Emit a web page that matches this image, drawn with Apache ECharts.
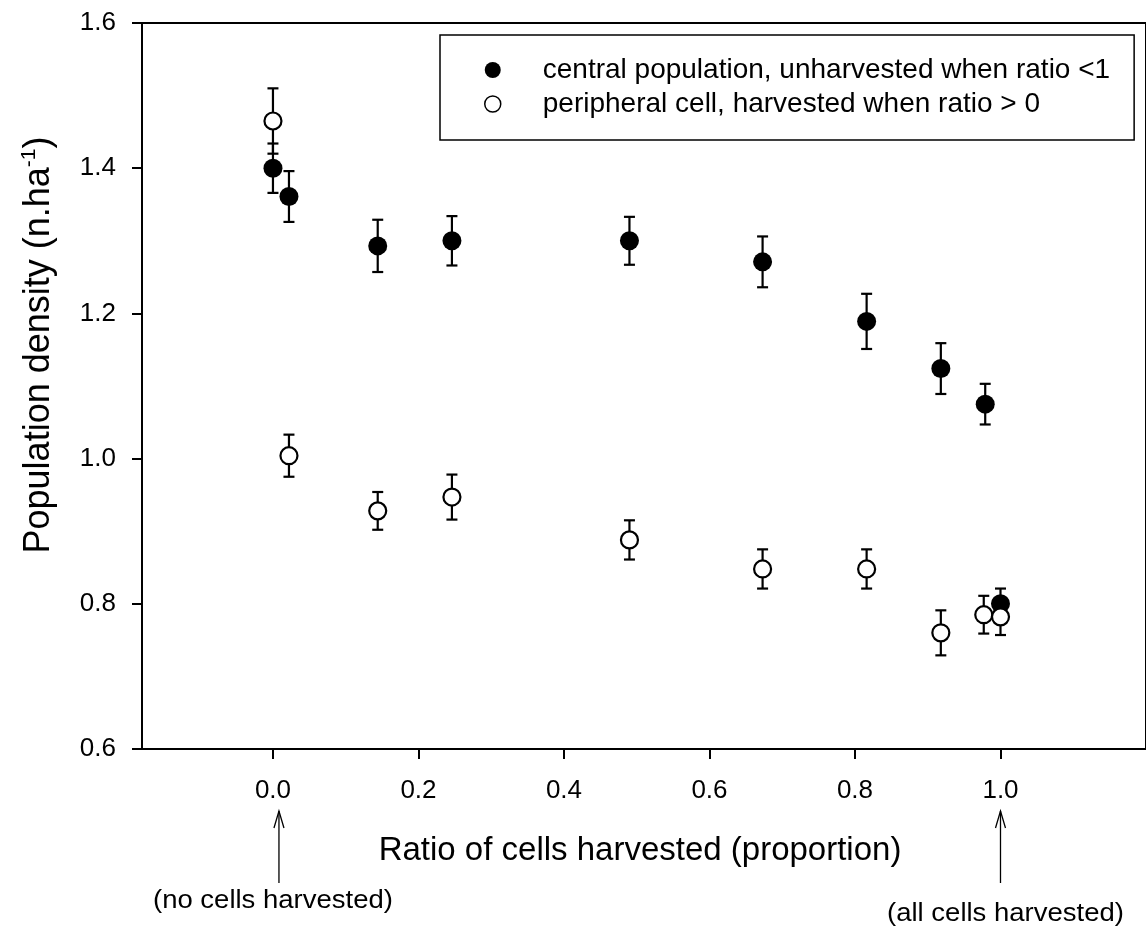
<!DOCTYPE html>
<html>
<head>
<meta charset="utf-8">
<script src="https://cdn.jsdelivr.net/npm/echarts@6/dist/echarts.min.js"></script>
<style>
  html, body { margin: 0; padding: 0; background: #fff; }
  #chart { width: 1146px; height: 928px; }
</style>
</head>
<body>
<div id="chart"></div>
<script>
// Ratio of cells harvested (x) for each treatment
const centralX = [0, 0.022, 0.144, 0.246, 0.490, 0.673, 0.816, 0.918, 0.979, 1.0];
const centralY = [1.400, 1.361, 1.293, 1.300, 1.300, 1.271, 1.189, 1.124, 1.075, 0.800];
const centralErr = [0.034, 0.035, 0.036, 0.034, 0.033, 0.035, 0.038, 0.035, 0.028, 0.021];

const peripheralX = [0, 0.022, 0.144, 0.246, 0.490, 0.673, 0.816, 0.918, 0.977, 1.0];
const peripheralY = [1.465, 1.004, 0.928, 0.947, 0.888, 0.848, 0.848, 0.760, 0.785, 0.782];
const peripheralErr = [0.045, 0.029, 0.026, 0.031, 0.027, 0.027, 0.027, 0.031, 0.026, 0.025];

const xTicks = [0, 0.2, 0.4, 0.6, 0.8, 1.0];
const yTicks = [0.6, 0.8, 1.0, 1.2, 1.4, 1.6];

const seriesNames = [
  'central population, unharvested when ratio <1',
  'peripheral cell, harvested when ratio > 0'
];

const FONT = '"Liberation Sans", Arial, sans-serif';

const points = (xs, ys) => xs.map((x, i) => [x, ys[i]]);
const bars = (xs, ys, es) => xs.map((x, i) => [x, ys[i] - es[i], ys[i] + es[i]]);

// Vertical error bar with short caps at both ends
function renderErrorBar(params, api) {
  const x = api.value(0);
  const lo = api.coord([x, api.value(1)]);
  const hi = api.coord([x, api.value(2)]);
  const w = 5.5;
  const st = { stroke: '#000', lineWidth: 2.2 };
  return {
    type: 'group',
    children: [
      { type: 'line', shape: { x1: lo[0], y1: lo[1], x2: hi[0], y2: hi[1] }, style: st },
      { type: 'line', shape: { x1: lo[0] - w, y1: lo[1], x2: lo[0] + w, y2: lo[1] }, style: st },
      { type: 'line', shape: { x1: hi[0] - w, y1: hi[1], x2: hi[0] + w, y2: hi[1] }, style: st }
    ]
  };
}

const chart = echarts.init(document.getElementById('chart'), null, { renderer: 'canvas' });

const option = {
  backgroundColor: '#fff',
  animation: false,
  textStyle: { fontFamily: FONT, color: '#000' },
  grid: {
    show: true,
    left: 142,
    top: 23,
    width: 1011,
    bottom: 179,
    borderColor: '#000',
    borderWidth: 2,
    backgroundColor: 'transparent'
  },
  legend: {
    data: [
      { name: seriesNames[0], icon: 'circle', itemStyle: { color: '#000', borderWidth: 0 } },
      { name: seriesNames[1], icon: 'circle', itemStyle: { color: '#fff', borderColor: '#000', borderWidth: 1.5 } }
    ],
    orient: 'vertical',
    left: 440,
    top: 35,
    backgroundColor: '#fff',
    borderColor: '#000',
    borderWidth: 1.5,
    borderRadius: 0,
    padding: [20, 24, 21, 44],
    itemWidth: 16,
    itemHeight: 16,
    itemGap: 4,
    selectedMode: false,
    textStyle: { fontFamily: FONT, fontSize: 28, color: '#000', lineHeight: 30, padding: [0, 0, 0, 37] }
  },
  xAxis: {
    type: 'value',
    min: -0.18,
    max: 1.2,
    splitLine: { show: false },
    axisLine: { show: true, onZero: false, lineStyle: { color: '#000', width: 2 } },
    axisTick: { show: true, inside: false, length: 10, lineStyle: { color: '#000', width: 2 }, customValues: xTicks },
    axisLabel: {
      customValues: xTicks,
      formatter: v => v.toFixed(1),
      fontFamily: FONT, fontSize: 26, color: '#000', margin: 29
    }
  },
  yAxis: {
    type: 'value',
    min: yTicks[0],
    max: yTicks[yTicks.length - 1],
    interval: 0.2,
    splitLine: { show: false },
    axisLine: { show: true, onZero: false, lineStyle: { color: '#000', width: 2 } },
    axisTick: { show: true, inside: false, length: 10, lineStyle: { color: '#000', width: 2 } },
    axisLabel: {
      formatter: v => v.toFixed(1),
      fontFamily: FONT, fontSize: 26, color: '#000', margin: 26
    }
  },
  series: [
    {
      name: seriesNames[0] + ' error',
      type: 'custom',
      renderItem: renderErrorBar,
      data: bars(centralX, centralY, centralErr),
      encode: { x: 0, y: [1, 2] },
      z: 2,
      silent: true
    },
    {
      name: seriesNames[0],
      type: 'scatter',
      data: points(centralX, centralY),
      symbol: 'circle',
      symbolSize: 19,
      itemStyle: { color: '#000', borderWidth: 0, opacity: 1 },
      z: 3
    },
    {
      name: seriesNames[1] + ' error',
      type: 'custom',
      renderItem: renderErrorBar,
      data: bars(peripheralX, peripheralY, peripheralErr),
      encode: { x: 0, y: [1, 2] },
      z: 4,
      silent: true
    },
    {
      name: seriesNames[1],
      type: 'scatter',
      data: points(peripheralX, peripheralY),
      symbol: 'circle',
      symbolSize: 17,
      itemStyle: { color: '#fff', borderColor: '#000', borderWidth: 2.2, opacity: 1 },
      z: 5
    }
  ]
};

chart.setOption(option);

// Axis titles and the end-point annotations under the x axis
const x0 = chart.convertToPixel({ xAxisIndex: 0 }, 0);
const x1 = chart.convertToPixel({ xAxisIndex: 0 }, 1);

function arrow(x) {
  const st = { stroke: '#000', lineWidth: 1.3, fill: null };
  return {
    type: 'group',
    children: [
      { type: 'line', shape: { x1: x, y1: 811, x2: x, y2: 883 }, style: st },
      { type: 'polyline', shape: { points: [[x - 5, 828], [x, 811], [x + 5, 828]] }, style: st }
    ]
  };
}

chart.setOption({
  graphic: [
    {
      type: 'text',
      x: 640, y: 851,
      style: { text: 'Ratio of cells harvested (proportion)', font: '33px ' + FONT, fill: '#000', align: 'center', verticalAlign: 'middle' }
    },
    {
      type: 'text',
      x: 39, y: 345,
      rotation: Math.PI / 2,
      style: {
        text: '{a|Population density (n.ha}{s|-1}{a|)}',
        rich: {
          a: { fontFamily: FONT, fontSize: 36, fill: '#000', lineHeight: 40 },
          s: { fontFamily: FONT, fontSize: 21, fill: '#000', verticalAlign: 'top', lineHeight: 40 }
        },
        align: 'center', verticalAlign: 'middle'
      }
    },
    arrow(x0 + 6),
    arrow(x1),
    {
      type: 'text',
      x: x0, y: 901,
      scaleX: 1.1,
      style: { text: '(no cells harvested)', font: '25px ' + FONT, fill: '#000', align: 'center', verticalAlign: 'middle' }
    },
    {
      type: 'text',
      x: x1 + 5, y: 914,
      scaleX: 1.1,
      style: { text: '(all cells harvested)', font: '25px ' + FONT, fill: '#000', align: 'center', verticalAlign: 'middle' }
    }
  ]
});
</script>
</body>
</html>
